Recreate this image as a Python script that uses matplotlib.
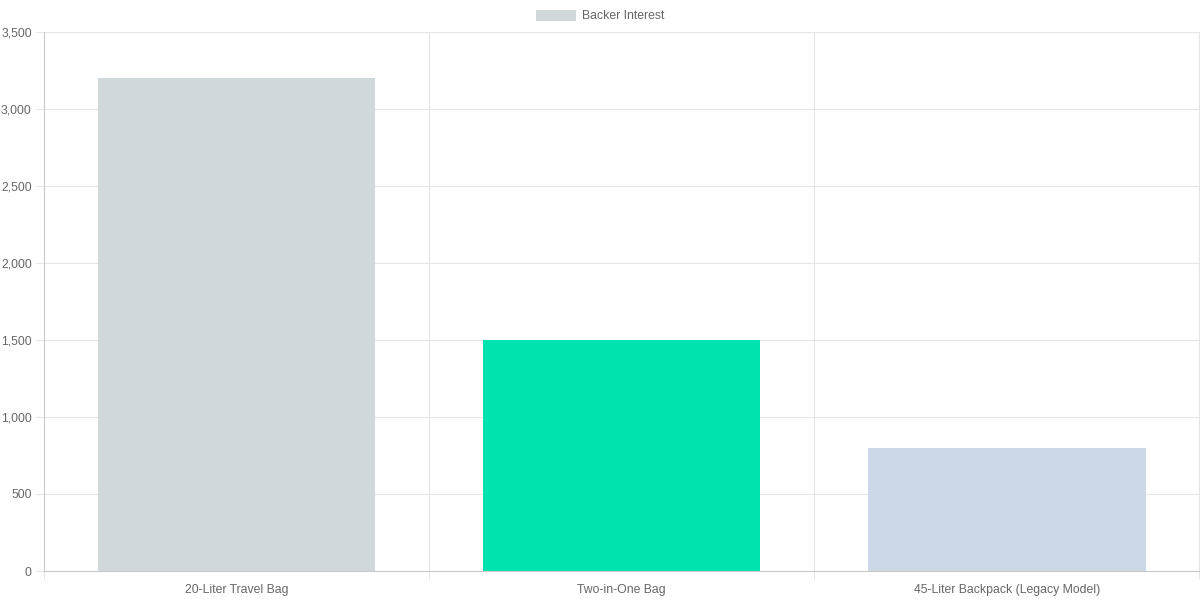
import matplotlib.pyplot as plt
from matplotlib.patches import Patch

categories = ['20-Liter Travel Bag', 'Two-in-One Bag', '45-Liter Backpack (Legacy Model)']
backer_interest = [3200, 1500, 800]
bar_colors = ['#d0d8db', '#00e3b1', '#ccd8e5']
y_ticks = [0, 500, 1000, 1500, 2000, 2500, 3000, 3500]
series_label = 'Backer Interest'

plt.rcParams['font.family'] = ['Liberation Sans', 'DejaVu Sans']
text_color = '#666666'
grid_color = '#e5e5e5'
axis_color = '#c8c8c8'
fs = 8.8  # ~12px at dpi 100

fig = plt.figure(figsize=(12, 6), dpi=100)
ax = fig.add_axes([44 / 1200, 29 / 600, 1155.5 / 1200, 539 / 600])

x = range(len(categories))
ax.bar(x, backer_interest, width=0.72, color=bar_colors, zorder=2)

# Limits
ax.set_xlim(-0.5, len(categories) - 0.5)
ax.set_ylim(y_ticks[0], y_ticks[-1])

# Y axis ticks and grid
ax.set_yticks(y_ticks)
ax.set_yticklabels([f'{v:,}' for v in y_ticks])
ax.tick_params(axis='y', length=5.76, width=0.8, color=grid_color, pad=3,
               labelsize=fs, labelcolor=text_color)
for v in y_ticks[1:]:
    ax.axhline(v, color=grid_color, linewidth=0.8, zorder=0)

# X axis: labels at centers, grid lines at category boundaries
ax.set_xticks(list(x))
ax.set_xticklabels(categories)
ax.tick_params(axis='x', which='major', length=0, pad=9.5,
               labelsize=fs, labelcolor=text_color)
bounds = [i - 0.5 for i in range(len(categories) + 1)]
ax.set_xticks(bounds, minor=True)
ax.tick_params(axis='x', which='minor', length=5.76, width=0.8, color=grid_color)
for b in bounds[1:]:
    ax.axvline(b, color=grid_color, linewidth=0.8, zorder=0)

# Spines
for side in ['top', 'right']:
    ax.spines[side].set_visible(False)
ax.spines['left'].set_color(axis_color)
ax.spines['left'].set_linewidth(0.8)
ax.spines['bottom'].set_color(axis_color)
ax.spines['bottom'].set_linewidth(0.8)

# Legend
fig.legend(handles=[Patch(facecolor=bar_colors[0], label=series_label)],
           loc='center', bbox_to_anchor=(0.5, 1 - 16 / 600), frameon=False,
           fontsize=fs, labelcolor=text_color, handlelength=3.3, handleheight=1.0,
           handletextpad=0.5, borderpad=0, borderaxespad=0)

fig.savefig('out.png', dpi=100, facecolor='white')
